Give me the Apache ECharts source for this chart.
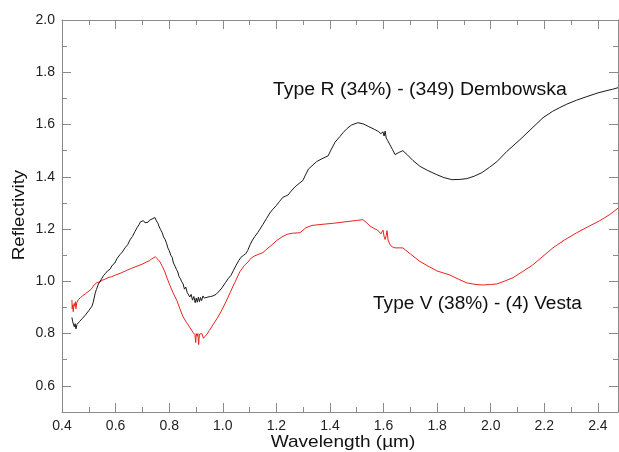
<!DOCTYPE html>
<html>
<head>
<meta charset="utf-8">
<script src="https://cdn.jsdelivr.net/npm/echarts@6/dist/echarts.min.js"></script>
<style>html,body{margin:0;padding:0;background:#fff}#c{width:619px;height:452px}</style>
</head>
<body>
<div id="c"></div>
<script>
// Type R (34%) - (349) Dembowska : [wavelength µm, reflectivity]
var dembowska = [[0.437,0.862],[0.440,0.845],[0.443,0.852],[0.446,0.826],[0.449,0.838],[0.452,0.818],[0.456,0.835],[0.460,0.828],[0.465,0.846],[0.470,0.840],[0.476,0.858],[0.482,0.852],[0.488,0.872],[0.494,0.866],[0.500,0.888],[0.506,0.882],[0.512,0.905],[0.516,0.918],[0.520,0.912],[0.524,0.955],[0.528,0.968],[0.532,0.975],[0.536,0.990],[0.542,0.994],[0.548,1.010],[0.555,1.022],[0.562,1.030],[0.570,1.040],[0.579,1.046],[0.588,1.062],[0.597,1.070],[0.606,1.088],[0.616,1.102],[0.625,1.112],[0.635,1.128],[0.645,1.140],[0.654,1.159],[0.663,1.172],[0.672,1.190],[0.680,1.205],[0.687,1.216],[0.693,1.228],[0.699,1.222],[0.704,1.232],[0.710,1.224],[0.716,1.230],[0.721,1.226],[0.727,1.234],[0.733,1.230],[0.739,1.240],[0.744,1.236],[0.747,1.244],[0.752,1.232],[0.758,1.222],[0.763,1.208],[0.768,1.198],[0.774,1.186],[0.779,1.170],[0.785,1.160],[0.790,1.146],[0.795,1.128],[0.800,1.118],[0.806,1.100],[0.811,1.092],[0.816,1.070],[0.822,1.058],[0.827,1.046],[0.832,1.036],[0.837,1.018],[0.842,1.010],[0.847,0.998],[0.852,0.990],[0.857,0.970],[0.862,0.978],[0.867,0.958],[0.872,0.964],[0.877,0.940],[0.882,0.950],[0.887,0.928],[0.892,0.942],[0.897,0.918],[0.901,0.936],[0.905,0.920],[0.909,0.940],[0.913,0.922],[0.917,0.938],[0.921,0.926],[0.926,0.944],[0.931,0.936],[0.937,0.942],[0.945,0.940],[0.955,0.942],[0.963,0.944],[0.975,0.950],[0.987,0.963],[0.997,0.975],[1.010,0.995],[1.020,1.010],[1.030,1.022],[1.040,1.042],[1.050,1.062],[1.060,1.080],[1.068,1.092],[1.078,1.100],[1.086,1.106],[1.093,1.118],[1.102,1.140],[1.111,1.158],[1.120,1.172],[1.130,1.186],[1.139,1.200],[1.150,1.218],[1.163,1.240],[1.176,1.262],[1.187,1.276],[1.200,1.290],[1.212,1.306],[1.225,1.322],[1.235,1.326],[1.243,1.330],[1.255,1.345],[1.270,1.362],[1.288,1.377],[1.299,1.386],[1.310,1.410],[1.320,1.430],[1.333,1.442],[1.350,1.458],[1.370,1.469],[1.393,1.480],[1.405,1.505],[1.419,1.532],[1.437,1.554],[1.450,1.570],[1.463,1.584],[1.480,1.598],[1.504,1.607],[1.523,1.603],[1.545,1.592],[1.565,1.582],[1.580,1.574],[1.590,1.565],[1.594,1.558],[1.598,1.572],[1.602,1.556],[1.606,1.575],[1.610,1.548],[1.615,1.540],[1.624,1.522],[1.633,1.505],[1.643,1.485],[1.657,1.493],[1.672,1.500],[1.690,1.483],[1.710,1.462],[1.736,1.440],[1.765,1.424],[1.799,1.408],[1.825,1.397],[1.855,1.389],[1.885,1.390],[1.911,1.393],[1.940,1.403],[1.967,1.416],[1.995,1.436],[2.023,1.458],[2.060,1.497],[2.109,1.542],[2.150,1.582],[2.195,1.626],[2.230,1.650],[2.258,1.665],[2.284,1.678],[2.320,1.693],[2.359,1.707],[2.400,1.721],[2.434,1.730],[2.455,1.735],[2.475,1.741]];

// Type V (38%) - (4) Vesta : [wavelength µm, reflectivity]
var vesta = [[0.437,0.929],[0.438,0.895],[0.440,0.910],[0.442,0.884],[0.445,0.915],[0.448,0.905],[0.450,0.922],[0.452,0.895],[0.455,0.918],[0.458,0.912],[0.461,0.930],[0.465,0.925],[0.469,0.938],[0.473,0.932],[0.477,0.945],[0.482,0.940],[0.487,0.952],[0.492,0.948],[0.497,0.960],[0.503,0.958],[0.509,0.970],[0.515,0.975],[0.520,0.986],[0.525,0.982],[0.530,0.995],[0.536,0.990],[0.542,0.998],[0.550,1.004],[0.560,1.008],[0.572,1.014],[0.585,1.018],[0.600,1.024],[0.620,1.032],[0.640,1.041],[0.660,1.050],[0.680,1.058],[0.700,1.066],[0.715,1.074],[0.725,1.078],[0.735,1.086],[0.742,1.090],[0.748,1.094],[0.752,1.090],[0.758,1.084],[0.766,1.074],[0.775,1.056],[0.784,1.036],[0.793,1.010],[0.803,0.984],[0.815,0.955],[0.829,0.926],[0.840,0.895],[0.851,0.866],[0.865,0.842],[0.878,0.822],[0.888,0.806],[0.896,0.796],[0.899,0.766],[0.901,0.800],[0.904,0.790],[0.907,0.800],[0.910,0.758],[0.913,0.798],[0.918,0.794],[0.922,0.800],[0.928,0.782],[0.934,0.790],[0.941,0.798],[0.950,0.812],[0.963,0.833],[0.980,0.860],[0.997,0.891],[1.012,0.922],[1.027,0.956],[1.045,0.996],[1.064,1.037],[1.080,1.060],[1.094,1.074],[1.107,1.090],[1.120,1.098],[1.135,1.104],[1.150,1.110],[1.165,1.124],[1.184,1.140],[1.200,1.155],[1.221,1.170],[1.240,1.180],[1.260,1.184],[1.288,1.186],[1.310,1.205],[1.333,1.214],[1.370,1.218],[1.411,1.222],[1.460,1.228],[1.500,1.233],[1.523,1.236],[1.535,1.226],[1.549,1.212],[1.565,1.202],[1.578,1.196],[1.590,1.182],[1.594,1.178],[1.598,1.196],[1.602,1.172],[1.606,1.160],[1.610,1.175],[1.613,1.194],[1.617,1.158],[1.624,1.140],[1.633,1.132],[1.643,1.128],[1.672,1.128],[1.700,1.105],[1.736,1.076],[1.770,1.056],[1.799,1.040],[1.848,1.024],[1.880,1.008],[1.911,0.994],[1.945,0.988],[1.971,0.986],[2.000,0.988],[2.023,0.990],[2.050,1.000],[2.083,1.014],[2.120,1.038],[2.157,1.063],[2.195,1.096],[2.232,1.128],[2.275,1.158],[2.321,1.186],[2.365,1.210],[2.407,1.232],[2.445,1.256],[2.475,1.280]];

var xMajorTicks = [0.4,0.6,0.8,1.0,1.2,1.4,1.6,1.8,2.0,2.2,2.4];
var xMinorTicks = [0.5,0.7,0.9,1.1,1.3,1.5,1.7,1.9,2.1,2.3];
var yMajorTicks = [0.6,0.8,1.0,1.2,1.4,1.6,1.8,2.0];
var yMinorTicks = [0.5,0.7,0.9,1.1,1.3,1.5,1.7,1.9];
var labelR = 'Type R (34%) - (349) Dembowska';
var labelV = 'Type V (38%) - (4) Vesta';
var xTitle = 'Wavelength (\u00b5m)';
var yTitle = 'Reflectivity';

var AX = '#8a8a8a';
var FONT = '"Liberation Sans", Arial, sans-serif';
var X_MIN = 0.4, X_MAX = 2.475, Y_MIN = 0.5, Y_MAX = 2.0;

function xAx(pos, vals, len, showLabel, showLine) {
  return {
    type: 'value', position: pos, min: X_MIN, max: X_MAX, gridIndex: 0,
    axisLine: {show: showLine, onZero: false, lineStyle: {color: AX, width: 1}},
    axisTick: {show: true, inside: true, length: len, customValues: vals, lineStyle: {color: AX}},
    axisLabel: {show: showLabel, customValues: xMajorTicks, color: '#222', fontSize: 14, fontFamily: FONT, margin: 7,
      formatter: function (v) { return v.toFixed(1); }},
    splitLine: {show: false}
  };
}
function yAx(pos, vals, len, showLabel, showLine) {
  return {
    type: 'value', position: pos, min: Y_MIN, max: Y_MAX, gridIndex: 0,
    axisLine: {show: showLine, onZero: false, lineStyle: {color: AX, width: 1}},
    axisTick: {show: true, inside: true, length: len, customValues: vals, lineStyle: {color: AX}},
    axisLabel: {show: showLabel, customValues: yMajorTicks, color: '#222', fontSize: 14, fontFamily: FONT, margin: 7,
      formatter: function (v) { return v.toFixed(1); }},
    splitLine: {show: false}
  };
}

var chart = echarts.init(document.getElementById('c'), null, {renderer: 'canvas'});
chart.setOption({
  backgroundColor: '#fff',
  animation: false,
  grid: {left: 62, right: 1, top: 20, bottom: 40, containLabel: false, outerBoundsMode: 'none'},
  xAxis: [
    xAx('bottom', xMajorTicks, 9, true, true),
    xAx('bottom', xMinorTicks, 5, false, false),
    xAx('top', xMajorTicks, 9, false, true),
    xAx('top', xMinorTicks, 5, false, false)
  ],
  yAxis: [
    yAx('left', yMajorTicks, 9, true, true),
    yAx('left', yMinorTicks, 5, false, false),
    yAx('right', yMajorTicks, 9, false, true),
    yAx('right', yMinorTicks, 5, false, false)
  ],
  series: [
    {type: 'line', name: labelR, data: dembowska, xAxisIndex: 0, yAxisIndex: 0, showSymbol: false,
     lineStyle: {color: '#1a1a1a', width: 1}, z: 3},
    {type: 'line', name: labelV, data: vesta, xAxisIndex: 0, yAxisIndex: 0, showSymbol: false,
     lineStyle: {color: '#e8231f', width: 1}, z: 2}
  ],
  graphic: [
    {type: 'text', x: 273, y: 90, scaleX: 1.08,
     style: {text: labelR, fill: '#111', font: '18px ' + FONT, textAlign: 'left', textVerticalAlign: 'middle'}},
    {type: 'text', x: 373, y: 304, scaleX: 1.06,
     style: {text: labelV, fill: '#111', font: '18px ' + FONT, textAlign: 'left', textVerticalAlign: 'middle'}},
    {type: 'text', x: 343, y: 442, scaleX: 1.12,
     style: {text: xTitle, fill: '#111', font: '17px ' + FONT, textAlign: 'center', textVerticalAlign: 'middle'}},
    {type: 'text', x: 19, y: 215, rotation: Math.PI / 2, scaleX: 1.1,
     style: {text: yTitle, fill: '#111', font: '17px ' + FONT, textAlign: 'center', textVerticalAlign: 'middle'}}
  ]
});
</script>
</body>
</html>
